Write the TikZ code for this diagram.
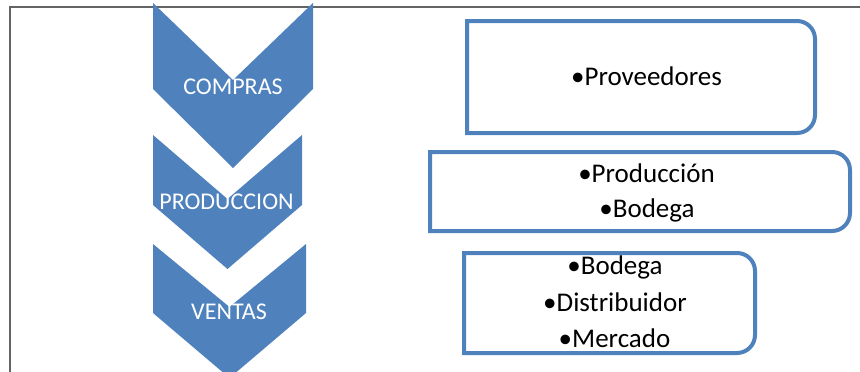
\documentclass[tikz,border=0pt]{standalone}
\usepackage{fontspec}
\setmainfont{Carlito}
\definecolor{chevblue}{HTML}{4F81BD}
\definecolor{framegray}{RGB}{100,100,100}
\begin{document}
\begin{tikzpicture}[x=1pt,y=-1pt,
	chev/.style={fill=chevblue},
	chevtext/.style={text=white,font=\fontsize{24}{28}\selectfont,inner sep=0,anchor=base},
	boxline/.style={draw=chevblue,line width=4pt},
	item/.style={font=\fontsize{27}{32}\selectfont,inner sep=0,anchor=base}]
		\useasboundingbox (0,0) rectangle (860,372);
		\clip (0,0) rectangle (860,372);
		% frame
		\draw[framegray,line width=1.5pt] (860,7)--(10,7)--(10,372);
		% chevrons
		\fill[chev] (153,3)--(233,80)--(313,3)--(313,89)--(233,168)--(153,89)--cycle;
		\fill[chev] (153,135)--(227.5,199)--(302,135)--(302,205)--(227.5,269)--(153,205)--cycle;
		\fill[chev] (153,244)--(229.5,307)--(306,244)--(306,313)--(229.5,378)--(153,313)--cycle;
		\node[chevtext] (compras) at (233,94){COMPRAS};
		\node[chevtext] (produccion) at (226.5,209){PRODUCCION};
		\node[chevtext] (ventas) at (229,319){VENTAS};
		% boxes, only the right corners rounded
		\draw[boxline] (467,21) -- (797,21) .. controls (806.94,21) and (815,29.06) .. (815,39) -- (815,115) .. controls (815,124.94) and (806.94,133) .. (797,133) -- (467,133) -- cycle;
		\draw[boxline] (430,152) -- (832,152) .. controls (841.94,152) and (850,160.06) .. (850,170) -- (850,213) .. controls (850,222.94) and (841.94,231) .. (832,231) -- (430,231) -- cycle;
		\draw[boxline] (464,253) -- (737,253) .. controls (746.94,253) and (755,261.06) .. (755,271) -- (755,335) .. controls (755,344.94) and (746.94,353) .. (737,353) -- (464,353) -- cycle;
		\node[item] (prov) at (646.5,85){•Proveedores};
		\node[item] (prod) at (646.5,182){•Producción};
		\node[item] (bod1) at (647,217){•Bodega};
		\node[item] (bod2) at (615,274){•Bodega};
		\node[item] (dist) at (615,311){•Distribuidor};
		\node[item] (merc) at (614.5,347){•Mercado};
		\end{tikzpicture}
\end{document}
